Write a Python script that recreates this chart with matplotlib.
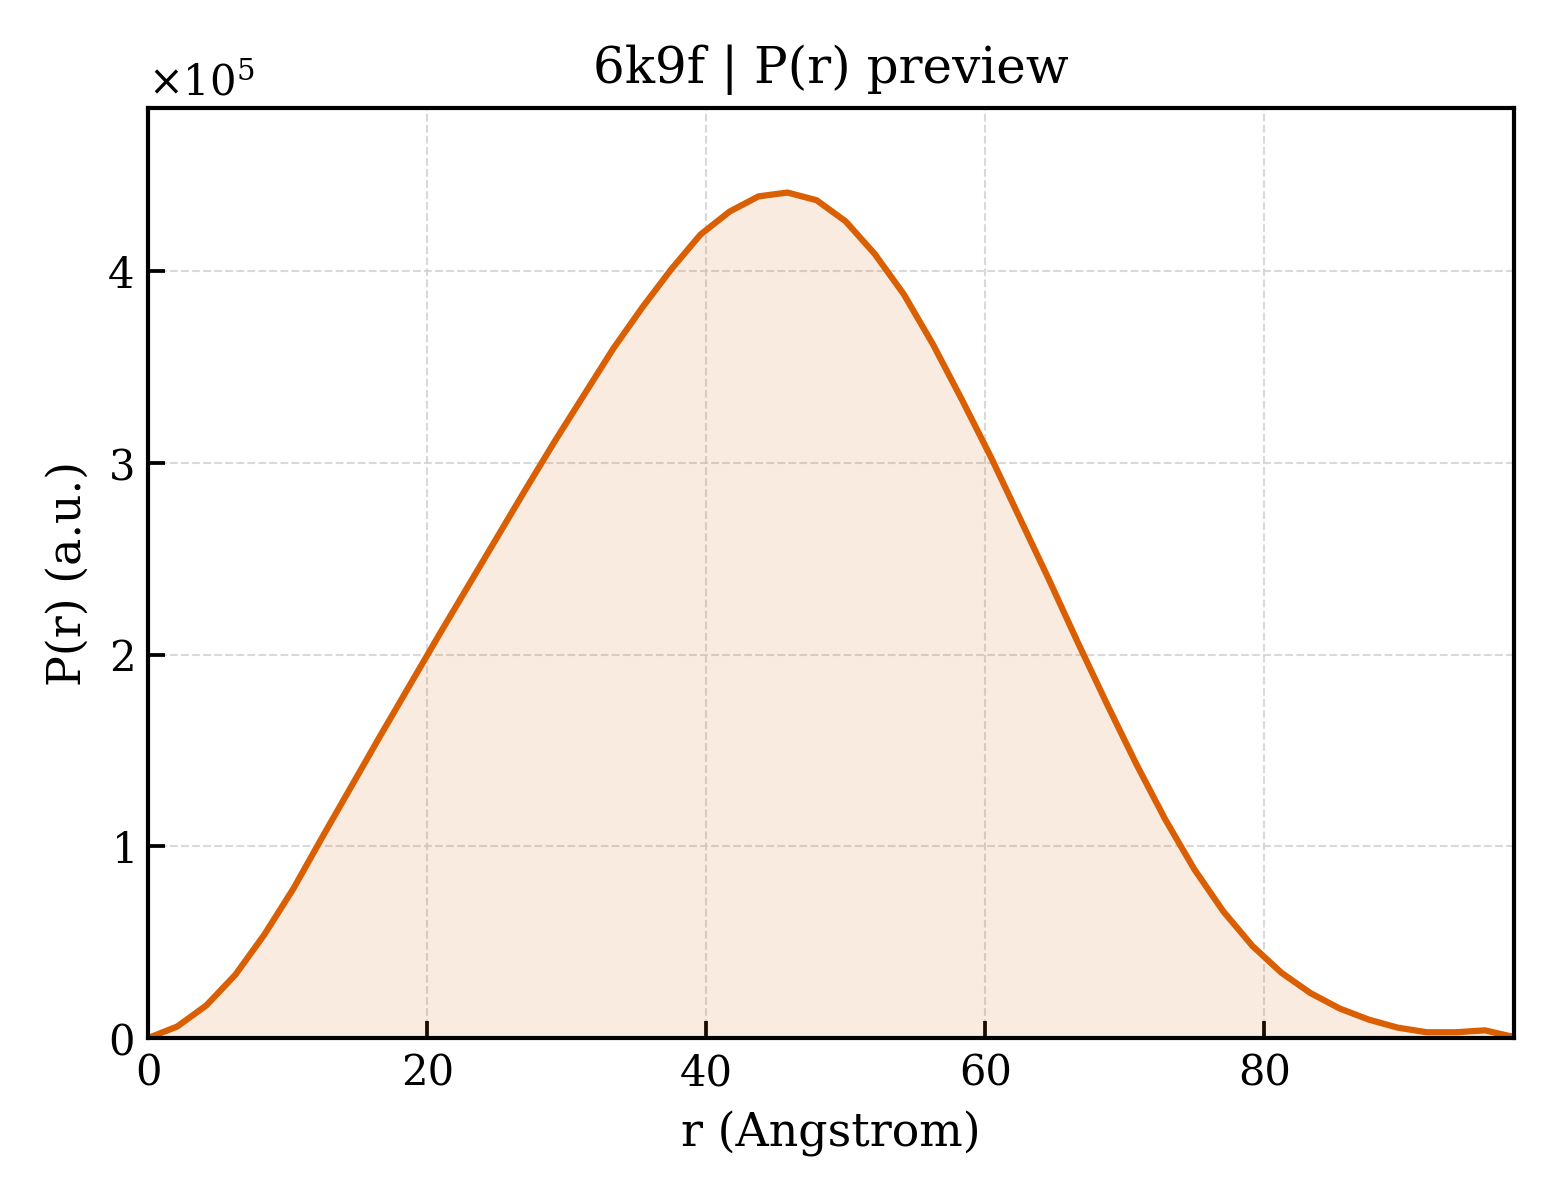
import numpy as np
import matplotlib
matplotlib.use("Agg")
import matplotlib.pyplot as plt
from matplotlib.ticker import ScalarFormatter

# ======= DATA ====================================
r_max = 97.9
n_points = 48
r = np.linspace(0.0, r_max, n_points)  # evenly spaced r grid

pr = np.array([
    0.00, 0.06, 0.17, 0.33, 0.54, 0.78, 1.05, 1.315, 1.58, 1.84,
    2.10, 2.355, 2.61, 2.865, 3.115, 3.355, 3.595, 3.81, 4.01, 4.19,
    4.31, 4.39, 4.41, 4.37, 4.26, 4.09, 3.88, 3.62, 3.33, 3.03,
    2.71, 2.39, 2.06, 1.74, 1.43, 1.14, 0.88, 0.66, 0.48, 0.34,
    0.234, 0.154, 0.096, 0.054, 0.03, 0.03, 0.04, 0.005,
]) * 1e5

line_color = "#d95f02"

# ======= PLOT ===========
plt.rcParams["font.family"] = "DejaVu Serif"
plt.rcParams["mathtext.fontset"] = "dejavuserif"

fig = plt.figure(figsize=(5.2, 4.0), dpi=300)
ax = fig.add_axes([0.095, 0.135, 0.8755, 0.775])

ax.fill_between(r, pr, 0, color=line_color, alpha=0.12, linewidth=0)
ax.plot(r, pr, color=line_color, linewidth=1.5)

ax.set_xlim(0, r_max)
ax.set_ylim(0, pr.max() * 1.1)

fmt = ScalarFormatter(useMathText=True)
fmt.set_powerlimits((0, 0))
ax.yaxis.set_major_formatter(fmt)
ax.yaxis.get_offset_text().set_fontsize(10)

ax.tick_params(direction="in", length=4, width=0.9, labelsize=10)
for sp in ax.spines.values():
    sp.set_linewidth(1.0)

ax.grid(True, linestyle="--", linewidth=0.5, color="#d0d0d0", alpha=0.8)
ax.set_axisbelow(True)

ax.set_xlabel("r (Angstrom)", fontsize=11)
ax.set_ylabel("P(r) (a.u.)", fontsize=11)
ax.set_title("6k9f | P(r) preview", fontsize=12)

fig.savefig("out.png", dpi=300)
